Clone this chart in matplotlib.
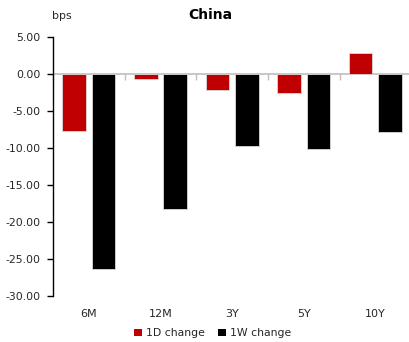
import matplotlib
matplotlib.use("Agg")
import matplotlib.pyplot as plt
from matplotlib.patches import Patch
import numpy as np

plt.rcParams['font.family'] = ['DejaVu Sans']

tenors = ["6M", "12M", "3Y", "5Y", "10Y"]
change_1d = [-7.7, -0.7, -2.1, -2.6, 2.9]
change_1w = [-26.3, -18.3, -9.7, -10.2, -7.8]
y_ticks = [5, 0, -5, -10, -15, -20, -25, -30]

red = "#C00000"
black = "#000000"
text_col = "#262626"

fig = plt.figure(figsize=(4.09, 3.42), dpi=100)
ax = fig.add_axes([0.13, 0.1345, 0.87, 0.7573])

x = np.arange(len(tenors))
w = 0.33
off = 0.205
ax.bar(x - off, change_1d, width=w, color=red, edgecolor="#d9d9d9", linewidth=0.6, zorder=3)
ax.bar(x + off, change_1w, width=w, color=black, edgecolor="#d9d9d9", linewidth=0.6, zorder=3)

ax.set_ylim(-30, 5)
ax.set_xlim(-0.5, 4.47)
ax.set_yticks(y_ticks)
ax.set_yticklabels([f"{v:.2f}" for v in y_ticks], fontsize=7.8, color=text_col)
ax.tick_params(axis="y", direction="out", length=4, width=1, color="black", pad=5)

ax.set_xticks(x)
ax.set_xticklabels(tenors, fontsize=8, color=text_col)
ax.tick_params(axis="x", length=0, pad=9)

for s in ["top", "right", "bottom"]:
    ax.spines[s].set_visible(False)
ax.spines["left"].set_color("black")
ax.spines["left"].set_linewidth(1)

# zero line with category-boundary tick marks hanging below it
ax.axhline(0, color="#bfbfbf", linewidth=1.2, zorder=2)
zero_frac = (0 - (-30)) / (5 - (-30))
sec = ax.secondary_xaxis(zero_frac)
sec.set_xticks(np.arange(len(tenors) + 1) - 0.5)
sec.set_xticklabels([])
sec.tick_params(direction="in", length=4, width=1, color="#bfbfbf")
sec.spines["bottom"].set_visible(False)
sec.spines["top"].set_visible(False)

fig.text(0.515, 0.955, "China", ha="center", va="center", fontsize=10, fontweight="bold", color="black")
fig.text(0.127, 0.952, "bps", ha="left", va="center", fontsize=7.8, color=text_col)

handles = [Patch(facecolor=red, edgecolor="none"), Patch(facecolor=black, edgecolor="none")]
fig.legend(handles, ["1D change", "1W change"], loc="center", bbox_to_anchor=(0.52, 0.025),
           ncol=2, frameon=False, fontsize=7.8, handlelength=0.7, handleheight=0.7,
           handletextpad=0.4, columnspacing=1.2, labelcolor=text_col)

fig.savefig("out.png", dpi=100)
